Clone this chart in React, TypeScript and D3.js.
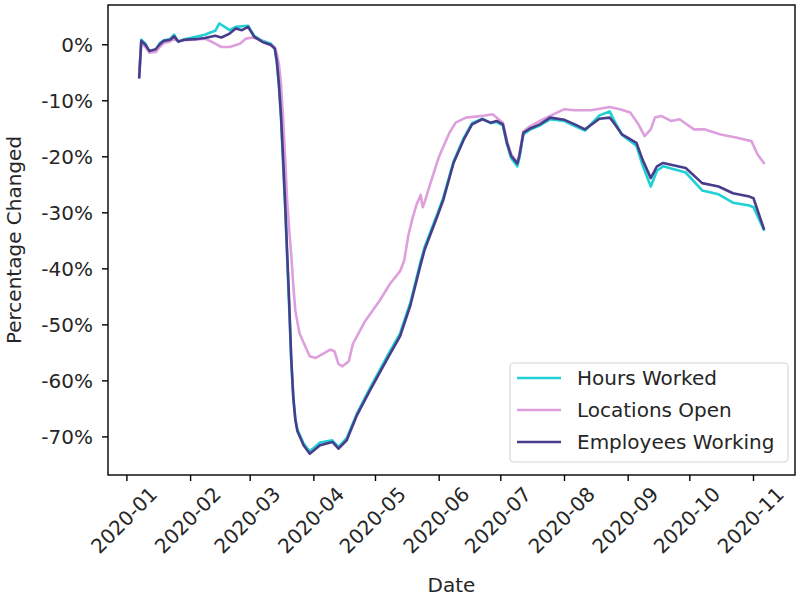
import * as React from "react";
import * as d3 from "d3";

type Point = [string, number];

// weekly-ish readings of the three series (percent change vs. baseline)
const hoursWorked: Point[] = [
    ["2020-01-07", -5.6], ["2020-01-08", 0.9], ["2020-01-10", 0.2], ["2020-01-12", -1.3],
    ["2020-01-15", -1.0], ["2020-01-17", 0.3], ["2020-01-19", 0.8], ["2020-01-22", 1.0],
    ["2020-01-24", 1.8], ["2020-01-26", 0.5], ["2020-01-29", 1.0], ["2020-02-03", 1.4],
    ["2020-02-08", 1.8], ["2020-02-10", 2.1], ["2020-02-13", 2.5], ["2020-02-15", 3.8],
    ["2020-02-18", 3.1], ["2020-02-20", 2.6], ["2020-02-23", 3.2], ["2020-02-26", 3.3],
    ["2020-02-29", 3.4], ["2020-03-03", 1.6], ["2020-03-07", 0.7], ["2020-03-11", 0.2],
    ["2020-03-13", -0.6], ["2020-03-14", -3.2], ["2020-03-15", -7.5], ["2020-03-16", -13.0],
    ["2020-03-17", -21.0], ["2020-03-18", -29.0], ["2020-03-19", -38.0], ["2020-03-20", -47.0],
    ["2020-03-21", -56.5], ["2020-03-22", -63.0], ["2020-03-23", -66.8], ["2020-03-24", -68.7],
    ["2020-03-27", -71.2], ["2020-03-30", -72.6], ["2020-04-04", -71.0], ["2020-04-10", -70.6],
    ["2020-04-13", -71.8], ["2020-04-17", -70.2], ["2020-04-22", -65.8], ["2020-04-28", -61.5],
    ["2020-05-07", -55.4], ["2020-05-13", -51.5], ["2020-05-18", -46.0], ["2020-05-23", -38.6],
    ["2020-05-25", -36.0], ["2020-05-31", -30.3], ["2020-06-03", -27.3], ["2020-06-08", -20.8],
    ["2020-06-13", -16.6], ["2020-06-17", -14.0], ["2020-06-22", -13.2], ["2020-06-26", -14.0],
    ["2020-06-29", -13.8], ["2020-07-02", -14.4], ["2020-07-04", -17.8], ["2020-07-06", -20.2],
    ["2020-07-09", -21.7], ["2020-07-10", -20.3], ["2020-07-12", -16.0], ["2020-07-15", -15.2],
    ["2020-07-20", -14.4], ["2020-07-25", -13.3], ["2020-08-01", -13.6], ["2020-08-06", -14.5],
    ["2020-08-11", -15.3], ["2020-08-18", -12.6], ["2020-08-23", -11.9], ["2020-08-25", -13.4],
    ["2020-08-29", -16.1], ["2020-09-05", -18.0], ["2020-09-08", -21.5], ["2020-09-12", -25.3],
    ["2020-09-15", -22.5], ["2020-09-18", -21.7], ["2020-09-29", -22.8], ["2020-10-07", -26.0],
    ["2020-10-15", -26.7], ["2020-10-22", -28.2], ["2020-10-30", -28.7], ["2020-11-01", -29.0],
    ["2020-11-06", -33.0],
];

const locationsOpen: Point[] = [
    ["2020-01-07", -5.2], ["2020-01-08", 0.4], ["2020-01-10", -0.4], ["2020-01-12", -1.4],
    ["2020-01-15", -1.3], ["2020-01-17", -0.4], ["2020-01-19", 0.3], ["2020-01-22", 0.6],
    ["2020-01-24", 1.0], ["2020-01-26", 0.6], ["2020-01-29", 0.8], ["2020-02-03", 0.9],
    ["2020-02-08", 1.1], ["2020-02-12", 0.4], ["2020-02-16", -0.4], ["2020-02-20", -0.4],
    ["2020-02-25", 0.2], ["2020-02-28", 1.1], ["2020-03-02", 1.3], ["2020-03-05", 1.0],
    ["2020-03-09", 0.2], ["2020-03-13", -0.4], ["2020-03-14", -1.6], ["2020-03-15", -3.5],
    ["2020-03-16", -7.0], ["2020-03-17", -13.0], ["2020-03-18", -20.0], ["2020-03-19", -27.7],
    ["2020-03-20", -33.0], ["2020-03-21", -37.5], ["2020-03-22", -43.0], ["2020-03-23", -47.5],
    ["2020-03-25", -51.5], ["2020-03-28", -54.0], ["2020-03-30", -55.6], ["2020-04-02", -55.9],
    ["2020-04-09", -54.4], ["2020-04-11", -54.7], ["2020-04-13", -57.0], ["2020-04-15", -57.4],
    ["2020-04-18", -56.5], ["2020-04-20", -53.4], ["2020-04-26", -49.3], ["2020-05-03", -45.7],
    ["2020-05-08", -42.7], ["2020-05-13", -40.4], ["2020-05-15", -38.5], ["2020-05-17", -34.0],
    ["2020-05-19", -31.0], ["2020-05-21", -28.5], ["2020-05-23", -26.8], ["2020-05-24", -29.0],
    ["2020-05-25", -28.0], ["2020-05-27", -25.6], ["2020-05-31", -21.0], ["2020-06-01", -19.9],
    ["2020-06-06", -15.7], ["2020-06-09", -13.9], ["2020-06-14", -13.0], ["2020-06-22", -12.7],
    ["2020-06-27", -12.4], ["2020-07-02", -13.9], ["2020-07-04", -17.2], ["2020-07-06", -19.5],
    ["2020-07-09", -21.0], ["2020-07-10", -19.6], ["2020-07-12", -15.5], ["2020-07-15", -14.6],
    ["2020-07-20", -13.6], ["2020-07-25", -12.7], ["2020-08-01", -11.5], ["2020-08-06", -11.7],
    ["2020-08-14", -11.7], ["2020-08-23", -11.1], ["2020-08-28", -11.5], ["2020-09-02", -12.1],
    ["2020-09-06", -14.2], ["2020-09-09", -16.3], ["2020-09-12", -15.1], ["2020-09-14", -13.0],
    ["2020-09-17", -12.7], ["2020-09-22", -13.6], ["2020-09-26", -13.3], ["2020-10-03", -15.1],
    ["2020-10-08", -15.1], ["2020-10-16", -16.0], ["2020-10-24", -16.6], ["2020-10-31", -17.2],
    ["2020-11-03", -19.6], ["2020-11-06", -21.1],
];

const employeesWorking: Point[] = [
    ["2020-01-07", -5.8], ["2020-01-08", 0.7], ["2020-01-10", 0.0], ["2020-01-12", -1.1],
    ["2020-01-15", -0.8], ["2020-01-17", 0.1], ["2020-01-19", 0.7], ["2020-01-22", 0.9],
    ["2020-01-24", 1.5], ["2020-01-26", 0.6], ["2020-01-29", 0.9], ["2020-02-03", 1.0],
    ["2020-02-08", 1.2], ["2020-02-13", 1.6], ["2020-02-16", 1.3], ["2020-02-20", 2.0],
    ["2020-02-23", 2.9], ["2020-02-26", 2.6], ["2020-02-29", 3.2], ["2020-03-03", 1.4],
    ["2020-03-07", 0.5], ["2020-03-11", 0.0], ["2020-03-13", -0.7], ["2020-03-14", -3.0],
    ["2020-03-15", -7.0], ["2020-03-16", -12.5], ["2020-03-17", -20.0], ["2020-03-18", -28.0],
    ["2020-03-19", -37.0], ["2020-03-20", -46.0], ["2020-03-21", -56.0], ["2020-03-22", -63.0],
    ["2020-03-23", -67.0], ["2020-03-24", -69.0], ["2020-03-27", -71.5], ["2020-03-30", -73.0],
    ["2020-04-04", -71.5], ["2020-04-10", -70.9], ["2020-04-13", -72.1], ["2020-04-17", -70.6],
    ["2020-04-22", -66.1], ["2020-04-28", -61.9], ["2020-05-07", -55.9], ["2020-05-13", -52.0],
    ["2020-05-18", -46.5], ["2020-05-23", -39.2], ["2020-05-25", -36.5], ["2020-05-31", -30.7],
    ["2020-06-03", -27.7], ["2020-06-08", -21.1], ["2020-06-13", -16.9], ["2020-06-17", -14.2],
    ["2020-06-22", -13.3], ["2020-06-26", -13.9], ["2020-06-29", -13.6], ["2020-07-02", -14.2],
    ["2020-07-04", -17.5], ["2020-07-06", -19.8], ["2020-07-09", -21.2], ["2020-07-10", -19.9],
    ["2020-07-12", -15.7], ["2020-07-15", -15.0], ["2020-07-20", -14.2], ["2020-07-25", -13.0],
    ["2020-08-01", -13.4], ["2020-08-06", -14.2], ["2020-08-11", -15.1], ["2020-08-18", -13.2],
    ["2020-08-23", -13.0], ["2020-08-25", -13.9], ["2020-08-29", -16.0], ["2020-09-05", -17.5],
    ["2020-09-08", -20.5], ["2020-09-12", -23.8], ["2020-09-15", -21.7], ["2020-09-18", -21.1],
    ["2020-09-29", -22.0], ["2020-10-07", -24.7], ["2020-10-15", -25.3], ["2020-10-22", -26.5],
    ["2020-10-30", -27.1], ["2020-11-01", -27.4], ["2020-11-06", -32.8],
];

const yTicks = [0, -10, -20, -30, -40, -50, -60, -70];

const series = [
    { name: "Hours Worked", data: hoursWorked, color: "#1fd1d4" },
    { name: "Locations Open", data: locationsOpen, color: "#dda0dd" },
    { name: "Employees Working", data: employeesWorking, color: "#483d8b" },
];

const W = 798;
const H = 599;
const plot = { left: 108, right: 795, top: 5, bottom: 475 };
const FONT = "'DejaVu Sans', sans-serif";
const FS = 20;

const parse = d3.timeParse("%Y-%m-%d");
const fmt = d3.timeFormat("%Y-%m");

const App: React.FC = () => {
    const allDates = series.flatMap(s => s.data.map(d => parse(d[0])!.getTime()));
    const [t0, t1] = d3.extent(allDates) as [number, number];
    const pad = (t1 - t0) * 0.05;

    const x = d3.scaleTime()
        .domain([new Date(t0 - pad), new Date(t1 + pad)])
        .range([plot.left, plot.right]);

    const y = d3.scaleLinear()
        .domain([-76.8, 7.1])
        .range([plot.bottom, plot.top]);

    const line = d3.line<Point>()
        .x(d => x(parse(d[0])!))
        .y(d => y(d[1]));

    const months = x.ticks(d3.timeMonth.every(1)!);

    const legend = { x: 510, y: 363, w: 278, h: 99, row: 32 };

    return (
        <svg width={W} height={H} style={{ display: "block", background: "white" }} fontFamily={FONT}>
            <style>{"body{margin:0}"}</style>

            {series.map(s => (
                <path key={s.name} d={line(s.data) || ""} fill="none" stroke={s.color}
                    strokeWidth={2.6} strokeLinejoin="round" strokeLinecap="square" />
            ))}

            {/* spines */}
            <rect x={plot.left} y={plot.top} width={plot.right - plot.left} height={plot.bottom - plot.top}
                fill="none" stroke="#000" strokeWidth={1.4} />

            {/* y axis */}
            {yTicks.map(v => (
                <g key={v}>
                    <line x1={plot.left - 6} x2={plot.left} y1={y(v)} y2={y(v)} stroke="#000" strokeWidth={1.4} />
                    <text x={plot.left - 15} y={y(v)} dy="0.36em" textAnchor="end" fontSize={FS} fill="#262626">
                        {v + "%"}
                    </text>
                </g>
            ))}

            {/* x axis */}
            {months.map(m => (
                <g key={m.getTime()}>
                    <line x1={x(m)} x2={x(m)} y1={plot.bottom} y2={plot.bottom + 6} stroke="#000" strokeWidth={1.4} />
                    <text transform={`translate(${x(m) - 3},${plot.bottom + 45}) rotate(-45)`}
                        textAnchor="middle" dy="0.36em" fontSize={FS} fill="#262626">
                        {fmt(m)}
                    </text>
                </g>
            ))}

            <text x={(plot.left + plot.right) / 2} y={592} textAnchor="middle" fontSize={FS} fill="#262626">Date</text>
            <text transform={`translate(21,${(plot.top + plot.bottom) / 2}) rotate(-90)`} textAnchor="middle"
                fontSize={FS} fill="#262626">Percentage Changed</text>

            {/* legend */}
            <rect x={legend.x} y={legend.y} width={legend.w} height={legend.h} rx={4}
                fill="white" fillOpacity={0.8} stroke="#d6d6d6" strokeWidth={1.2} />
            {series.map((s, i) => {
                const cy = legend.y + 15 + i * legend.row;
                return (
                    <g key={s.name}>
                        <line x1={legend.x + 7} x2={legend.x + 51} y1={cy} y2={cy} stroke={s.color} strokeWidth={2.6} />
                        <text x={legend.x + 67} y={cy} dy="0.36em" fontSize={FS} fill="#262626">{s.name}</text>
                    </g>
                );
            })}
        </svg>
    );
};

export default App;
